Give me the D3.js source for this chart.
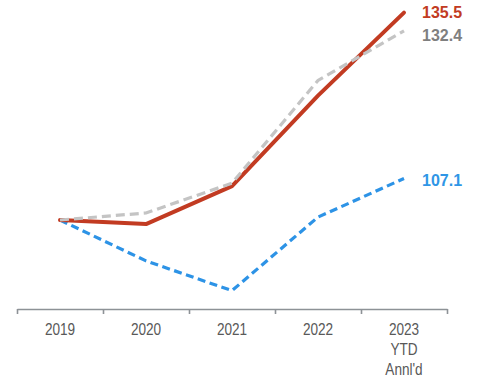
<!DOCTYPE html>
<html>
<head>
<meta charset="utf-8">
<script src="https://cdn.jsdelivr.net/npm/d3@7"></script>
<style>
  html, body { margin: 0; padding: 0; background: #fff; }
  svg { display: block; font-family: "Liberation Sans", Arial, sans-serif; }
</style>
</head>
<body>
<svg id="chart" width="480" height="379"></svg>
<script>
// ---- data ----
const categories = ["2019", "2020", "2021", "2022", "2023"];
const categoryLabelLines = [["2019"], ["2020"], ["2021"], ["2022"], ["2023", "YTD", "Annl'd"]];
const redSeries = [100.0, 99.3, 105.8, 121.3, 135.5];
const graySeries = [100.0, 101.2, 106.3, 123.9, 132.4];
const blueSeries = [100.0, 93.0, 87.9, 100.5, 107.1];
const endLabels = ["135.5", "132.4", "107.1"];

// ---- layout ----
const svg = d3.select("#chart");
const plotLeft = 17, plotRight = 447, axisY = 309, plotTop = 0;

const x = d3.scaleBand().domain(categories).range([plotLeft, plotRight]).padding(0);
const y = d3.scaleLinear().domain([84.76, 137.67]).range([axisY, plotTop]);
const xEdge = d3.scaleLinear().domain([0, categories.length]).range([plotLeft, plotRight]);

// axis: line with tick marks at band boundaries
const edgeAxis = d3.axisBottom(xEdge)
  .tickValues(d3.range(0, categories.length + 1))
  .tickFormat("")
  .tickSize(5)
  .tickSizeOuter(0);
const gEdge = svg.append("g").attr("transform", `translate(0,${axisY})`).call(edgeAxis);
gEdge.select(".domain").attr("stroke", "#8d9296").attr("stroke-width", 1.6);
gEdge.selectAll(".tick line").attr("stroke", "#8d9296").attr("stroke-width", 1.6);

// category labels through band axis
const labelAxis = d3.axisBottom(x).tickSize(0).tickSizeOuter(0).tickFormat("");
const gLab = svg.append("g").attr("transform", `translate(0,${axisY})`).call(labelAxis);
gLab.select(".domain").remove();
gLab.selectAll(".tick").each(function(d, i) {
  const t = d3.select(this).append("text")
    .attr("fill", "#595959")
    .attr("font-size", 17)
    .attr("text-anchor", "middle")
    .attr("transform", "scale(0.8,1)")
    .attr("y", 26.5);
  categoryLabelLines[i].forEach((ln, j) => {
    t.append("tspan").attr("x", 0).attr("dy", j === 0 ? 0 : 20).text(ln);
  });
});

const line = d3.line()
  .x((d, i) => x(categories[i]) + x.bandwidth() / 2)
  .y(d => y(d));

svg.append("path").datum(blueSeries)
  .attr("fill", "none").attr("stroke", "#2d93e6").attr("stroke-width", 3.2)
  .attr("stroke-dasharray", "8,4.5").attr("d", line);

svg.append("path").datum(redSeries)
  .attr("fill", "none").attr("stroke", "#c23b22").attr("stroke-width", 4)
  .attr("stroke-linejoin", "round").attr("stroke-linecap", "round").attr("d", line);

svg.append("path").datum(graySeries)
  .attr("fill", "none").attr("stroke", "#c4c4c4").attr("stroke-width", 3.2)
  .attr("stroke-dasharray", "9,5").attr("d", line);

// end labels
const last = categories.length - 1;
const labelX = 422;
const endSpecs = [
  { v: redSeries[last], text: endLabels[0], color: "#c23b22", dy: 0 },
  { v: graySeries[last], text: endLabels[1], color: "#7f7f7f", dy: 5 },
  { v: blueSeries[last], text: endLabels[2], color: "#2f96e6", dy: 2 }
];
svg.selectAll(".endlab").data(endSpecs).enter().append("text")
  .attr("class", "endlab")
  .attr("x", labelX)
  .attr("y", d => y(d.v) + d.dy)
  .attr("dy", "0.35em")
  .attr("fill", d => d.color)
  .attr("font-size", 16)
  .attr("font-weight", "bold")
  .text(d => d.text);
</script>
</body>
</html>
